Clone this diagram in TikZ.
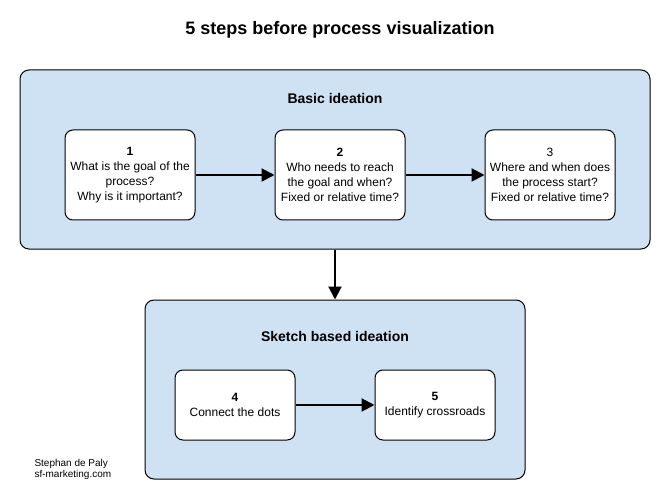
\documentclass[tikz,border=0pt]{standalone}
\usepackage{fontspec}
\setmainfont{Liberation Sans}
\usetikzlibrary{arrows.meta}
\definecolor{ideablue}{HTML}{CFE2F3}

\begin{document}
\begin{tikzpicture}[x=1pt, y=-1pt,
    groupbox/.style={draw, fill=ideablue, rounded corners=9pt, line width=1pt, inner sep=0pt},
    stepbox/.style={draw, fill=white, rounded corners=8pt, line width=1pt, inner sep=0pt,
        align=center, font=\fontsize{12}{15}\selectfont},
    heading/.style={font=\fontsize{14}{17}\selectfont\bfseries},
    flow/.style={line width=2pt, -{Triangle[length=13pt,width=13pt]}}]
    \useasboundingbox (0,0) rectangle (670,500);

    \node[font=\fontsize{18}{22}\selectfont\bfseries] (title) at (340, 30) {5 steps before process visualization};

    % group boxes
    \node[groupbox, minimum width=630pt, minimum height=179pt] (basic) at (335, 159.5) {};
    \node[groupbox, minimum width=380pt, minimum height=179pt] (sketch) at (335, 389.5) {};
    \node[heading] (basichead) at (335, 98) {Basic ideation};
    \node[heading] (sketchhead) at (335, 336) {Sketch based ideation};

    % steps
    \node[stepbox, minimum width=130pt, minimum height=90pt] (1) at (130, 175) {\textbf{1}\\What is the goal of the\\process?\\Why is it important?};
    \node[stepbox, minimum width=130pt, minimum height=90pt] (2) at (340, 175) {\textbf{2}\\Who needs to reach\\the goal and when?\\Fixed or relative time?};
    \node[stepbox, minimum width=130pt, minimum height=90pt] (3) at (550, 175) {3\\Where and when does\\the process start?\\Fixed or relative time?};
    \node[stepbox, minimum width=120pt, minimum height=70pt] (4) at (235, 405) {\textbf{4}\\Connect the dots};
    \node[stepbox, minimum width=120pt, minimum height=70pt] (5) at (435, 405) {\textbf{5}\\Identify crossroads};

    \draw[flow] (1) -- (2);
    \draw[flow] (2) -- (3);
    \draw[flow] (basic) -- (sketch);
    \draw[flow] (4) -- (5);

    \node[anchor=west, align=left, font=\fontsize{10}{11}\selectfont] (credit) at (31, 469) {Stephan de Paly\\sf-marketing.com};
\end{tikzpicture}
\end{document}
